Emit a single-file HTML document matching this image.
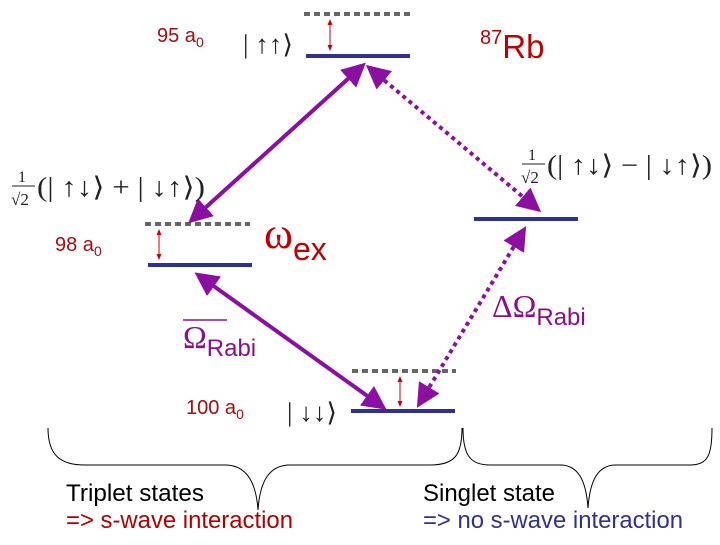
<!DOCTYPE html>
<html><head><meta charset="utf-8"><style>
body{margin:0;background:#fff;}
svg text{font-family:"Liberation Sans",sans-serif;}
.m{font-family:"Liberation Serif","DejaVu Serif",serif;}
</style></head><body>
<svg width="720" height="540" viewBox="0 0 720 540" xmlns="http://www.w3.org/2000/svg">
<defs>
<marker id="pa" markerWidth="6" markerHeight="6" refX="4" refY="3" orient="auto-start-reverse" markerUnits="strokeWidth"><path d="M0,0 L6,3 L0,6 Z" fill="#8B0FA0"/></marker>
<marker id="ra" markerWidth="6" markerHeight="6" refX="5" refY="3" orient="auto-start-reverse"><path d="M0,0.5 L6,3 L0,5.5 Z" fill="#c00"/></marker>
</defs>
<g stroke="#2E3192" stroke-width="4">
<line x1="306" y1="56" x2="410" y2="56"/>
<line x1="148" y1="265" x2="252" y2="265"/>
<line x1="474" y1="219" x2="578" y2="219"/>
<line x1="351" y1="411" x2="455" y2="411"/>
</g>
<g stroke="#666" stroke-width="4" stroke-dasharray="6,4">
<line x1="304" y1="14" x2="410" y2="14"/>
<line x1="145" y1="224" x2="250" y2="224"/>
<line x1="352" y1="371" x2="456" y2="371"/>
</g>
<g stroke="#c00" stroke-width="1">
<line x1="330" y1="20" x2="330" y2="50" marker-start="url(#ra)" marker-end="url(#ra)"/>
<line x1="159" y1="230" x2="159" y2="259" marker-start="url(#ra)" marker-end="url(#ra)"/>
<line x1="400" y1="377" x2="400" y2="406" marker-start="url(#ra)" marker-end="url(#ra)"/>
</g>
<g stroke="#8B0FA0" stroke-width="4" fill="none">
<line x1="360" y1="68" x2="194" y2="218" marker-start="url(#pa)" marker-end="url(#pa)"/>
<line x1="201" y1="277" x2="380" y2="405" marker-start="url(#pa)" marker-end="url(#pa)"/>
<line x1="372" y1="70" x2="535" y2="207" stroke-dasharray="4,4" marker-start="url(#pa)" marker-end="url(#pa)"/>
<line x1="522" y1="233" x2="421" y2="401" stroke-dasharray="4,4" marker-start="url(#pa)" marker-end="url(#pa)"/>
</g>
<g stroke="#000" stroke-width="1" fill="none">
<path d="M48,428 C48,455 60,465 85,465 L225,465 C245,465 256,480 258,510 C260,480 270,465 290,465 L430,465 C455,465 462,455 462,428"/>
<path d="M463,428 C463,455 470,465 490,465 L560,465 C578,465 586,480 588,508 C590,480 598,465 616,465 L690,465 C708,465 712,455 712,428"/>
</g>
<text x="157" y="42" font-size="20" fill="#A50E0E">95 a<tspan font-size="14" dy="5">0</tspan></text>
<text x="55" y="251" font-size="20" fill="#A50E0E">98 a<tspan font-size="14" dy="5">0</tspan></text>
<text x="186" y="414" font-size="20" fill="#A50E0E">100 a<tspan font-size="14" dy="5">0</tspan></text>
<text x="243" y="53" font-size="26" class="m" fill="#222" textLength="50" lengthAdjust="spacingAndGlyphs">| ↑↑⟩</text>
<text x="287" y="421" font-size="26" class="m" fill="#222" textLength="50" lengthAdjust="spacingAndGlyphs">| ↓↓⟩</text>
<text x="480" y="58" font-size="33" fill="#C00000"><tspan font-size="20" dy="-14">87</tspan><tspan dy="14">Rb</tspan></text>
<text x="264" y="248" font-size="44" class="m" fill="#C00000">ω<tspan font-family="Liberation Sans" font-size="32" dy="12">ex</tspan></text>
<text x="183" y="348" font-size="32" class="m" fill="#8B0F8B">Ω<tspan font-family="Liberation Sans" font-size="24" dy="8">Rabi</tspan></text>
<line x1="183" y1="320" x2="227" y2="320" stroke="#8B0F8B" stroke-width="1.5"/>
<text x="492" y="317" font-size="32" class="m" fill="#8B0F8B">ΔΩ<tspan font-family="Liberation Sans" font-size="24" dy="8">Rabi</tspan></text>
<g fill="#222">
<text x="18" y="182" font-size="16" class="m">1</text>
<line x1="12" y1="186" x2="35" y2="186" stroke="#222" stroke-width="1"/>
<text x="11" y="205" font-size="17" class="m">√2</text>
<text x="37" y="196" font-size="27" class="m" textLength="168" lengthAdjust="spacingAndGlyphs">(| ↑↓⟩ + | ↓↑⟩)</text>
<text x="528" y="160" font-size="16" class="m">1</text>
<line x1="522" y1="164" x2="545" y2="164" stroke="#222" stroke-width="1"/>
<text x="521" y="183" font-size="17" class="m">√2</text>
<text x="547" y="174" font-size="27" class="m" textLength="165" lengthAdjust="spacingAndGlyphs">(| ↑↓⟩ − | ↓↑⟩)</text>
</g>
<text x="66" y="501" font-size="24" fill="#000" textLength="138" lengthAdjust="spacingAndGlyphs">Triplet states</text>
<text x="66" y="528" font-size="24" fill="#B00000" textLength="227" lengthAdjust="spacingAndGlyphs">=&gt; s-wave interaction</text>
<text x="423" y="501" font-size="24" fill="#000" textLength="132" lengthAdjust="spacingAndGlyphs">Singlet state</text>
<text x="423" y="528" font-size="24" fill="#2E3192" textLength="260" lengthAdjust="spacingAndGlyphs">=&gt; no s-wave interaction</text>
</svg>
</body></html>
